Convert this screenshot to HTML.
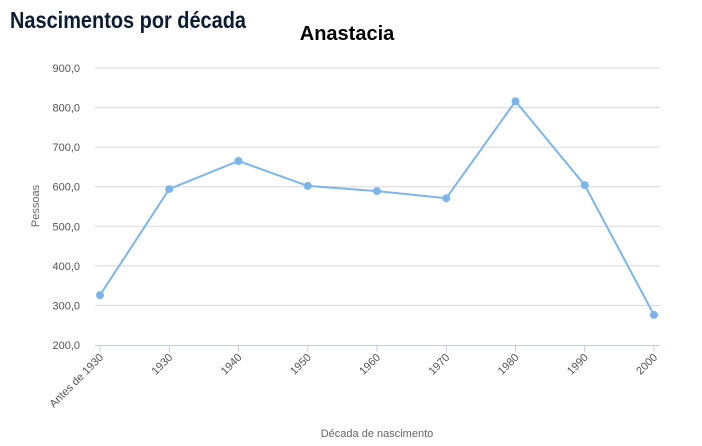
<!DOCTYPE html>
<html><head><meta charset="utf-8"><style>
body{margin:0;background:#fff;width:702px;height:441px;overflow:hidden;font-family:"Liberation Sans",sans-serif}
</style></head><body>
<svg width="702" height="441" xmlns="http://www.w3.org/2000/svg">
<text x="10" y="28" font-size="23" font-weight="bold" fill="#0d1b33" textLength="236" lengthAdjust="spacingAndGlyphs">Nascimentos por década</text>
<text x="347" y="40" text-anchor="middle" font-size="20" font-weight="bold" fill="#000">Anastacia</text>
<g id="grid"></g>
<g id="xax"></g>
<text transform="translate(39,206) rotate(-90)" text-anchor="middle" font-size="11" fill="#666">Pessoas</text>
<text x="377" y="437" text-anchor="middle" font-size="11" fill="#666">Década de nascimento</text>
<g id="series"></g>
</svg>
<script>
const categories=["Antes de 1930","1930","1940","1950","1960","1970","1980","1990","2000"];
const values=[326,594,665,602,589,571,816,604,276];
const yTicks=[200,300,400,500,600,700,800,900];
const ns="http://www.w3.org/2000/svg";
const y=v=>345-(v-200)*(277/700);
const x=i=>100+i*69.25;
function mk(t,a,p){const e=document.createElementNS(ns,t);for(const k in a)e.setAttribute(k,a[k]);p.appendChild(e);return e;}
const grid=document.getElementById('grid');
yTicks.forEach(v=>{
 if(v>200){const l=mk('line',{x1:95,x2:660,y1:y(v),y2:y(v),stroke:'#d8d8d8','stroke-width':1},grid);
 
 }
 const t=mk('text',{x:80,y:y(v)+4,'text-anchor':'end','font-size':11,fill:'#555'},grid);
 t.textContent=v.toFixed(1).replace('.',',');
 
 
});
const xax=document.getElementById('xax');
const al=mk('line',{x1:95,x2:660,y1:345.5,y2:345.5,stroke:'#c0cfe0','stroke-width':1},xax);


categories.forEach((c,i)=>{
 const tk=mk('line',{x1:x(i),x2:x(i),y1:345,y2:352,stroke:'#c0cfe0'},xax);
 
 
 const t=mk('text',{transform:`translate(${x(i)+4},${358}) rotate(-45)`,'text-anchor':'end','font-size':11,fill:'#555'},xax);
 t.textContent=c;
 
 
});
const s=document.getElementById('series');
const pl=mk('polyline',{points:values.map((v,i)=>x(i)+','+y(v)).join(' '),fill:'none',stroke:'#7cb5ec','stroke-width':2},s);


values.forEach((v,i)=>{
 const c=mk('circle',{cx:x(i),cy:y(v),r:4,fill:'#7cb5ec'},s);
 
 
});
</script>
</body></html>
